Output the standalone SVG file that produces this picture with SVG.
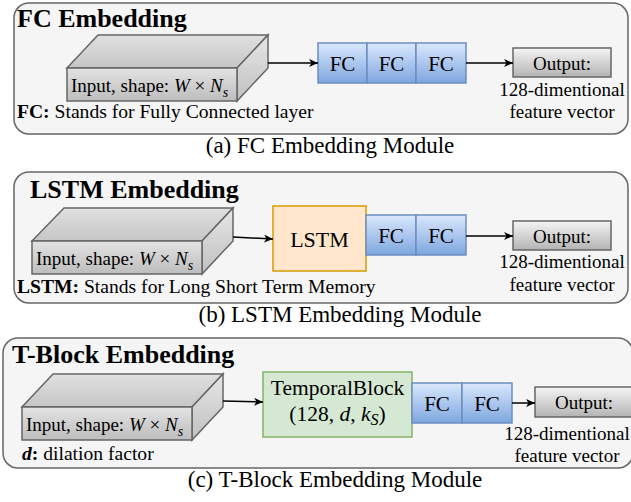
<svg xmlns="http://www.w3.org/2000/svg" width="631" height="502" viewBox="0 0 631 502" font-family="'Liberation Serif', 'Times New Roman', 'DejaVu Serif', serif">
<style>
text, tspan{font-family:'Liberation Serif','Times New Roman','DejaVu Serif',serif}
text{fill:#000}
.panel{fill:#f5f5f5;stroke:#666;stroke-width:1.5}
.title{font-size:26px;font-weight:bold}
.body{font-size:19px}
.note{font-size:19.6px}
.cap{font-size:23px;text-anchor:middle}
.mid{text-anchor:middle}
.fc{fill:url(#gBlue);stroke:#6c8ebf;stroke-width:1.5}
.fct{font-size:21px;text-anchor:middle}
.out{fill:url(#gGray);stroke:#666;stroke-width:1.5}
.front{fill:url(#gFront);stroke:#666;stroke-width:1.5}
.top{fill:url(#gTop);stroke:#666;stroke-width:1.5}
.side{fill:url(#gSide);stroke:#666;stroke-width:1.5}
.arr{stroke:#000;stroke-width:1.5;fill:none;marker-end:url(#ah)}
</style>
<defs>
<linearGradient id="gBlue" x1="0" y1="0" x2="0" y2="1"><stop offset="0" stop-color="#dae8fc"/><stop offset="1" stop-color="#7ea6e0"/></linearGradient>
<linearGradient id="gGray" x1="0" y1="0" x2="0" y2="1"><stop offset="0" stop-color="#f5f5f5"/><stop offset="1" stop-color="#b3b3b3"/></linearGradient>
<linearGradient id="gFront" x1="0" y1="0" x2="0" y2="1"><stop offset="0" stop-color="#e3e3e3"/><stop offset="1" stop-color="#bdbdbd"/></linearGradient>
<linearGradient id="gTop" x1="0" y1="0" x2="0" y2="1"><stop offset="0" stop-color="#e0e0e0"/><stop offset="1" stop-color="#c6c6c6"/></linearGradient>
<linearGradient id="gSide" x1="0" y1="0" x2="0" y2="1"><stop offset="0" stop-color="#e6e6e6"/><stop offset="1" stop-color="#c0c0c0"/></linearGradient>
<marker id="ah" markerWidth="10" markerHeight="8" refX="9" refY="4" orient="auto" markerUnits="userSpaceOnUse"><path d="M0,0 L9,4 L0,8 L2.5,4 Z" fill="#000"/></marker>
</defs>

<!-- Panel (a) -->
<g id="panel-a">
<rect class="panel" x="14" y="3" width="614" height="131" rx="15"/>
<text class="title" x="17" y="27">FC Embedding</text>
</g>
<g id="input-a">
<polygon class="top" points="67,68 98,35 268,35 237,68"/>
<polygon class="side" points="237,68 268,35 268,68 237,101"/>
<rect class="front" x="67" y="68" width="170" height="33"/>
<text class="body" x="71" y="92">Input, shape: <tspan font-style="italic">W</tspan> × <tspan font-style="italic">N</tspan><tspan font-style="italic" font-size="14" dy="5">s</tspan></text>
</g>
<text class="note" x="17" y="118"><tspan font-weight="bold">FC:</tspan> Stands for Fully Connected layer</text>
<g id="fc-a">
<rect class="fc" x="318" y="43" width="49" height="40"/>
<rect class="fc" x="367" y="43" width="49" height="40"/>
<rect class="fc" x="416" y="43" width="50" height="40"/>
<text class="fct" x="342.5" y="71">FC</text>
<text class="fct" x="391.5" y="71">FC</text>
<text class="fct" x="441" y="71">FC</text>
</g>
<g id="output-a">
<rect class="out" x="513" y="48" width="98" height="29"/>
<text class="body mid" x="562" y="70">Output:</text>
<text class="body mid" x="562" y="96">128-dimentional</text>
<text class="body mid" x="562" y="118">feature vector</text>
</g>
<text class="cap" x="330" y="153">(a) FC Embedding Module</text>

<!-- Panel (b) -->
<g id="panel-b">
<rect class="panel" x="14" y="172" width="614" height="131" rx="15"/>
<text class="title" x="30" y="198">LSTM Embedding</text>
</g>
<g id="input-b">
<polygon class="top" points="32,241 64,208 233,208 202,241"/>
<polygon class="side" points="202,241 233,208 233,241 202,274"/>
<rect class="front" x="32" y="241" width="170" height="33"/>
<text class="body" x="36" y="265">Input, shape: <tspan font-style="italic">W</tspan> × <tspan font-style="italic">N</tspan><tspan font-style="italic" font-size="14" dy="5">s</tspan></text>
</g>
<text class="note" x="17" y="293"><tspan font-weight="bold">LSTM:</tspan> Stands for Long Short Term Memory</text>
<g id="lstm-b">
<rect x="273" y="206" width="93" height="65" fill="#ffe6cc" stroke="#d79b00" stroke-width="1.5"/>
<text x="319.5" y="247" font-size="22" text-anchor="middle">LSTM</text>
</g>
<g id="fc-b">
<rect class="fc" x="366" y="215" width="50" height="40"/>
<rect class="fc" x="416" y="215" width="50" height="40"/>
<text class="fct" x="391" y="243">FC</text>
<text class="fct" x="441" y="243">FC</text>
</g>
<g id="output-b">
<rect class="out" x="513" y="221" width="98" height="29"/>
<text class="body mid" x="562" y="243">Output:</text>
<text class="body mid" x="562" y="268">128-dimentional</text>
<text class="body mid" x="562" y="291">feature vector</text>
</g>
<text class="cap" x="340" y="322">(b) LSTM Embedding Module</text>

<!-- Panel (c) -->
<g id="panel-c">
<rect class="panel" x="3" y="338" width="630" height="130" rx="15"/>
<text class="title" x="12" y="363">T-Block Embedding</text>
</g>
<g id="input-c">
<polygon class="top" points="22,407 53,374 223,374 192,407"/>
<polygon class="side" points="192,407 223,374 223,407 192,440"/>
<rect class="front" x="22" y="407" width="170" height="33"/>
<text class="body" x="26" y="431">Input, shape: <tspan font-style="italic">W</tspan> × <tspan font-style="italic">N</tspan><tspan font-style="italic" font-size="14" dy="5">s</tspan></text>
</g>
<text class="note" x="22" y="460"><tspan font-weight="bold" font-style="italic">d</tspan><tspan font-weight="bold">:</tspan> dilation factor</text>
<g id="tblock-c">
<rect x="263" y="372" width="149" height="65" fill="#d5e8d4" stroke="#82b366" stroke-width="1.5"/>
<text x="337.5" y="395" font-size="21.5" text-anchor="middle">TemporalBlock</text>
<text x="337.5" y="421" font-size="21.5" text-anchor="middle">(128, <tspan font-style="italic">d</tspan>, <tspan font-style="italic">k</tspan><tspan font-style="italic" font-size="16" dy="4">S</tspan><tspan dy="-4">)</tspan></text>
</g>
<g id="fc-c">
<rect class="fc" x="412" y="383" width="50" height="40"/>
<rect class="fc" x="462" y="383" width="50" height="40"/>
<text class="fct" x="437" y="411">FC</text>
<text class="fct" x="487" y="411">FC</text>
</g>
<g id="output-c">
<rect class="out" x="535" y="387" width="98" height="30"/>
<text class="body mid" x="584" y="409">Output:</text>
<text class="body mid" x="567" y="440">128-dimentional</text>
<text class="body mid" x="567" y="462">feature vector</text>
</g>
<text class="cap" x="335" y="487">(c) T-Block Embedding Module</text>

<g id="connectors">
<line class="arr" x1="268" y1="63" x2="318" y2="63"/>
<line class="arr" x1="466" y1="63" x2="513" y2="63"/>
<line class="arr" x1="233" y1="237" x2="273" y2="239"/>
<line class="arr" x1="466" y1="236" x2="513" y2="236"/>
<line class="arr" x1="223" y1="401" x2="263" y2="402"/>
<line class="arr" x1="512" y1="403" x2="535" y2="403"/>
</g>
</svg>
